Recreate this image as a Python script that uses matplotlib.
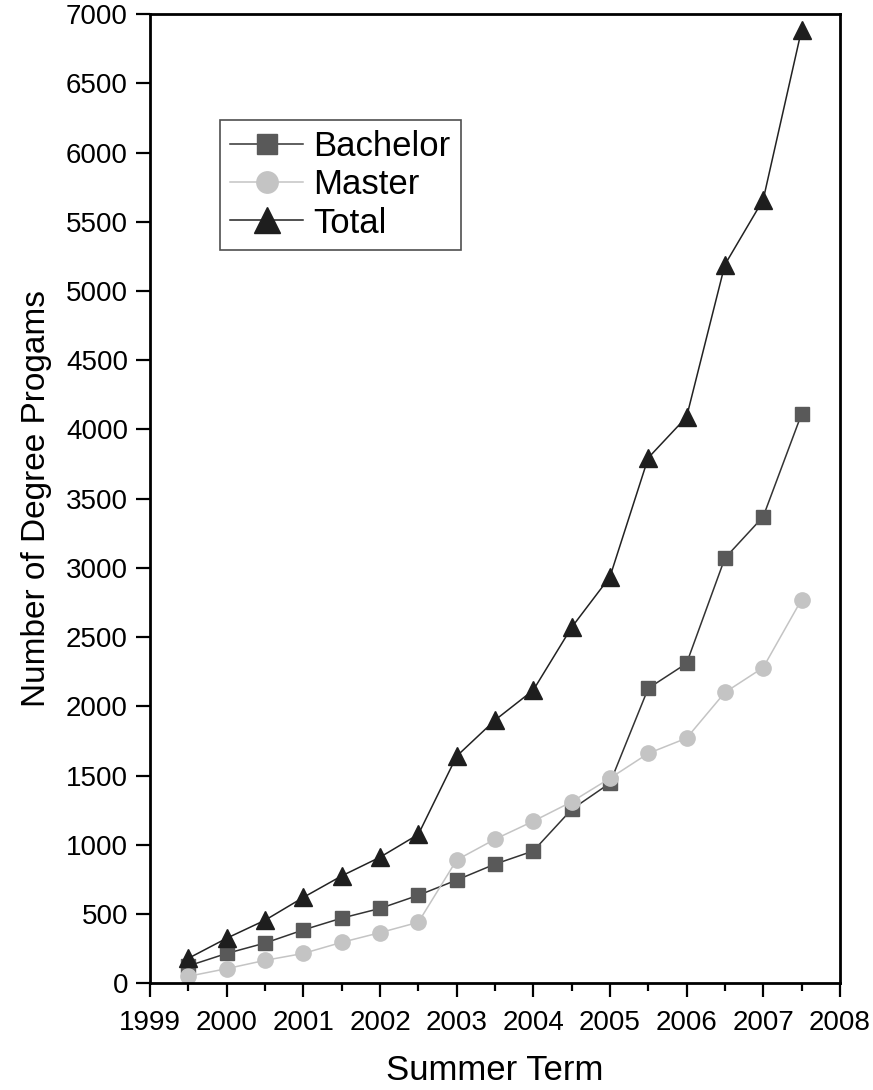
import numpy as np
import matplotlib
matplotlib.use("Agg")
import matplotlib.pyplot as plt
from matplotlib.ticker import MultipleLocator

plt.rcParams['font.family'] = ['Liberation Sans', 'DejaVu Sans']

# summer terms (half-year steps)
terms = [1999.5, 2000, 2000.5, 2001, 2001.5, 2002, 2002.5, 2003, 2003.5,
         2004, 2004.5, 2005, 2005.5, 2006, 2006.5, 2007, 2007.5]
bachelor = [125, 215, 290, 385, 470, 540, 635, 745, 860,
            955, 1255, 1445, 2130, 2310, 3070, 3370, 4110]
master = [50, 105, 165, 215, 295, 365, 440, 890, 1040,
          1170, 1310, 1480, 1660, 1770, 2100, 2280, 2770]
total = [180, 325, 455, 620, 775, 910, 1075, 1640, 1900,
         2117, 2570, 2935, 3795, 4090, 5190, 5660, 6885]

fig = plt.figure(figsize=(8.73, 10.9), dpi=100)
ax = fig.add_axes([0.172, 0.098, 0.79, 0.889])

ax.plot(terms, bachelor, color='#333333', lw=1.1, marker='s', ms=10,
        mfc='#595959', mec='#595959', label='Bachelor')
ax.plot(terms, master, color='#c4c4c4', lw=1.1, marker='o', ms=11,
        mfc='#c4c4c4', mec='#c4c4c4', label='Master')
ax.plot(terms, total, color='#222222', lw=1.1, marker='^', ms=13,
        mfc='#1e1e1e', mec='#1e1e1e', label='Total')

ax.set_xlim(1999, 2008)
ax.set_ylim(0, 7000)
ax.xaxis.set_major_locator(MultipleLocator(1))
ax.xaxis.set_minor_locator(MultipleLocator(0.5))
ax.yaxis.set_major_locator(MultipleLocator(500))

for s in ax.spines.values():
    s.set_linewidth(2)
ax.tick_params(axis='both', which='major', direction='out', length=10,
               width=1.6, labelsize=20, pad=6)
ax.tick_params(axis='x', which='major', pad=9)
ax.tick_params(axis='x', which='minor', direction='out', length=6, width=1.6)

ax.set_xlabel('Summer Term', fontsize=25, labelpad=13)
ax.set_ylabel('Number of Degree Progams', fontsize=24, labelpad=10)

leg = ax.legend(loc='upper left', bbox_to_anchor=(0.101, 0.891), fontsize=25,
                frameon=True, fancybox=False, edgecolor='#222222',
                handlelength=2.1, handletextpad=0.3, borderpad=0.3,
                labelspacing=0.15, borderaxespad=0, markerscale=1.4)
leg.get_frame().set_linewidth(1.2)

fig.savefig('out.png', dpi=100)
